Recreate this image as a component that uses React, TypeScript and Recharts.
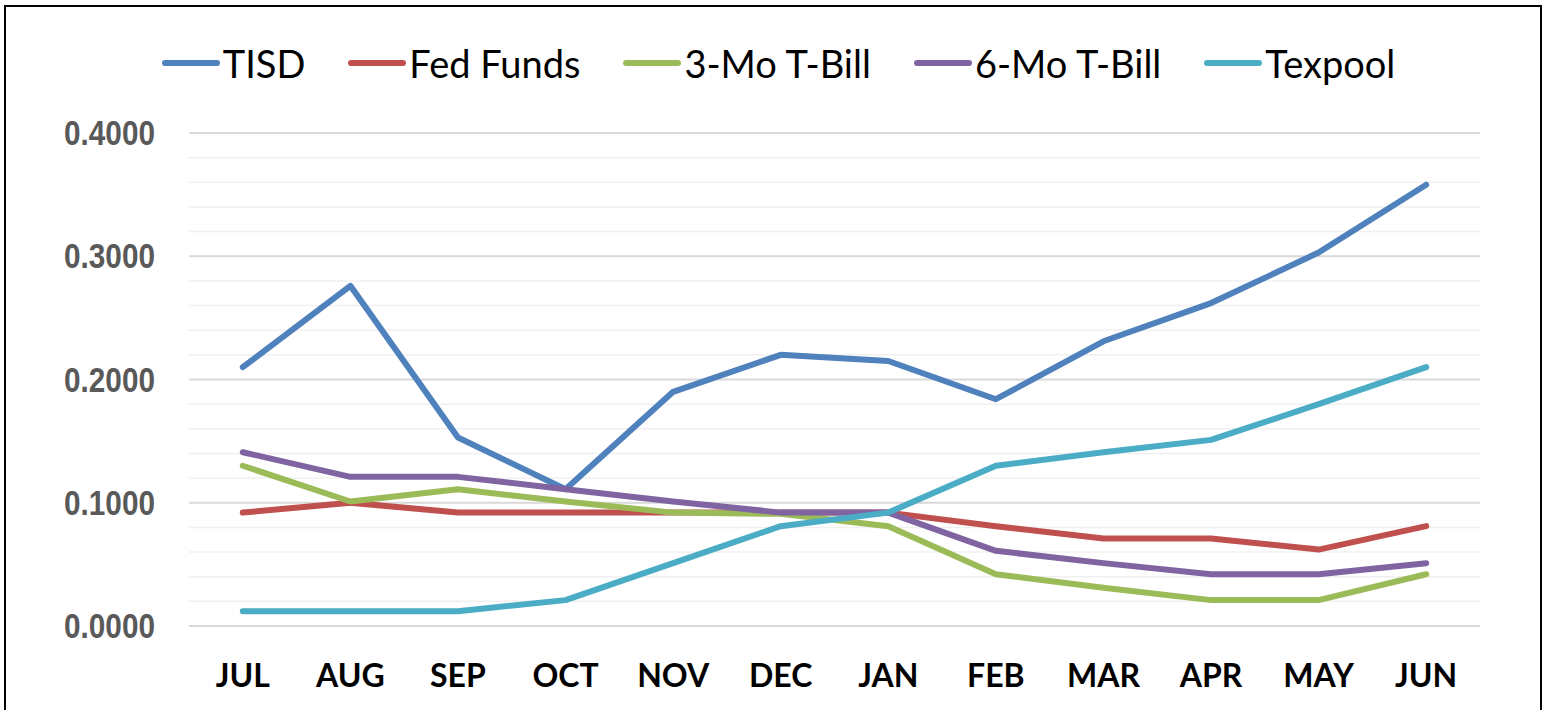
import React from 'react';
import { LineChart, Line, XAxis, YAxis, CartesianGrid } from 'recharts';

const months = ['JUL', 'AUG', 'SEP', 'OCT', 'NOV', 'DEC', 'JAN', 'FEB', 'MAR', 'APR', 'MAY', 'JUN'];
const tisd = [0.21, 0.276, 0.153, 0.111, 0.19, 0.22, 0.215, 0.184, 0.231, 0.262, 0.303, 0.358];
const fedFunds = [0.092, 0.1, 0.092, 0.092, 0.092, 0.092, 0.092, 0.081, 0.071, 0.071, 0.062, 0.081];
const threeMo = [0.13, 0.101, 0.111, 0.101, 0.092, 0.091, 0.081, 0.042, 0.031, 0.021, 0.021, 0.042];
const sixMo = [0.141, 0.121, 0.121, 0.111, 0.101, 0.092, 0.092, 0.061, 0.051, 0.042, 0.042, 0.051];
const texpool = [0.012, 0.012, 0.012, 0.021, 0.051, 0.081, 0.092, 0.13, 0.141, 0.151, 0.18, 0.21];
const yDomain = [0, 0.4];
const majorTicks = [0, 0.1, 0.2, 0.3, 0.4];
const minorTicks = [0, 0.02, 0.04, 0.06, 0.08, 0.1, 0.12, 0.14, 0.16, 0.18, 0.2, 0.22, 0.24, 0.26, 0.28, 0.3, 0.32, 0.34, 0.36, 0.38, 0.4];

const seriesNames = ['TISD', 'Fed Funds', '3-Mo T-Bill', '6-Mo T-Bill', 'Texpool'];
const seriesKeys = ['tisd', 'fed', 'three', 'six', 'tex'];
const seriesColors = ['#4F81BD', '#C0504D', '#9BBB59', '#8064A2', '#4BACC6'];

const data = months.map((m, i) => ({
  month: m,
  tisd: tisd[i],
  fed: fedFunds[i],
  three: threeMo[i],
  six: sixMo[i],
  tex: texpool[i],
}));

let majorYs: number[] = [];

const gridGen = (arg: any) => {
  const yAxis = arg && arg.yAxis;
  const off = arg && arg.offset;
  let toY: (v: number) => number;
  if (yAxis && typeof yAxis.scale === 'function') {
    toY = (v) => Number(yAxis.scale(v));
  } else if (off && typeof off.top === 'number' && typeof off.height === 'number') {
    toY = (v) => off.top + off.height * (1 - (v - yDomain[0]) / (yDomain[1] - yDomain[0]));
  } else {
    return [];
  }
  majorYs = majorTicks.map(toY);
  return minorTicks.map(toY);
};

const GridLine = (p: any) => {
  const isMajor = majorYs.some((y) => Math.abs(y - p.y1) < 0.5);
  return (
    <line
      x1={p.x1}
      y1={p.y1}
      x2={p.x2}
      y2={p.y2}
      stroke={isMajor ? '#d9d9d9' : '#f0f0f0'}
      strokeWidth={isMajor ? 1.8 : 1.5}
      fill="none"
    />
  );
};

const YTick = (props: any) => {
  const { x, y, payload } = props;
  return (
    <text
      x={x}
      y={y}
      dy={12}
      textAnchor="end"
      fill="#595959"
      fontSize={35}
      fontWeight={700}
      fontFamily="'Liberation Sans', Arial, sans-serif"
      textLength={91}
      lengthAdjust="spacingAndGlyphs"
    >
      {Number(payload.value).toFixed(4)}
    </text>
  );
};

const LegendBox = () => (
  <div style={{ position: 'absolute', left: 0, top: 40, width: 1556, display: 'flex', justifyContent: 'center', alignItems: 'center', gap: 42, fontFamily: 'Lato, sans-serif', fontSize: 38, color: '#000' }}>
    {seriesNames.map((n, i) => (
      <div key={n} style={{ display: 'flex', alignItems: 'center' }}>
        <svg width={60} height={10} style={{ marginRight: 2 }}>
          <line x1={4} y1={5} x2={56} y2={5} stroke={seriesColors[i]} strokeWidth={6} strokeLinecap="round" />
        </svg>
        <span style={{ lineHeight: '46px' }}>{n}</span>
      </div>
    ))}
  </div>
);

export default function App() {
  return (
    <div style={{ position: 'absolute', left: 0, top: 0, width: 1548, height: 710, overflow: 'hidden', background: '#fff' }}>
      <div style={{ position: 'absolute', left: 4, top: 5, width: 1534, height: 720, border: '2.5px solid #000', boxSizing: 'content-box' }} />
      <div style={{ position: 'absolute', left: 0, top: 0 }}>
        <LineChart width={1548} height={710} data={data} margin={{ top: 133, right: 68, bottom: 54, left: 0 }}>
          <CartesianGrid
            vertical={false}
            horizontalCoordinatesGenerator={gridGen}
            horizontal={(p: any) => <GridLine {...p} />}
            stroke="#efefef"
          />
          <XAxis
            dataKey="month"
            scale="band"
            height={30}
            axisLine={false}
            tickLine={false}
            tickSize={0}
            tickMargin={38}
            interval={0}
            tick={{ fill: '#000', fontSize: 32, fontWeight: 700, fontFamily: 'Lato, sans-serif' }}
          />
          <YAxis
            width={189}
            domain={yDomain}
            ticks={majorTicks}
            type="number"
            axisLine={false}
            tickLine={false}
            tickSize={0}
            tickMargin={34}
            tick={<YTick />}
          />
          {seriesKeys.map((k, i) => (
            <Line
              key={k}
              dataKey={k}
              name={seriesNames[i]}
              stroke={seriesColors[i]}
              strokeWidth={6}
              strokeLinecap="round"
              strokeLinejoin="round"
              dot={false}
              activeDot={false}
              isAnimationActive={false}
            />
          ))}
        </LineChart>
      </div>
      <LegendBox />
    </div>
  );
}
